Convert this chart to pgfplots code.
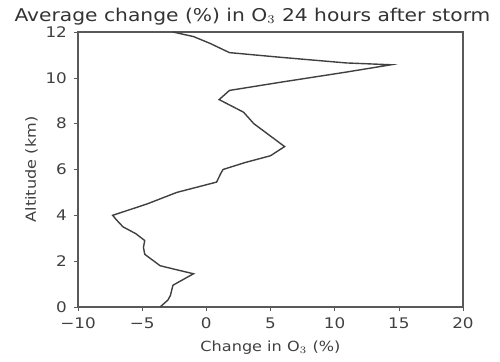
\documentclass[border=0pt]{standalone}
\usepackage{pgfplots}
\pgfplotsset{compat=1.18}
\usepackage{fontspec}
\setmainfont{DejaVu Sans}
\newfontfamily\widefont[FakeStretch=1.15]{DejaVu Sans}
\newfontfamily\widerfont[FakeStretch=1.15]{DejaVu Sans}
\begin{document}
\begin{tikzpicture}[x=1pt,y=1pt]
\path (0,0) rectangle (250,180);
\begin{axis}[
  at={(39pt,26.5pt)}, anchor=south west,
  scale only axis, width=192.5pt, height=137.5pt,
  xmin=-10, xmax=20, ymin=0, ymax=12,
  xtick={-10,-5,0,5,10,15,20},
  xticklabels={−10,−5,0,5,10,15,20},
  ytick={0,2,4,6,8,10,12},
  yticklabels={0,2,4,6,8,10,12},
  tick align=outside, major tick length=2pt,
  xtick pos=left, ytick pos=left,
  axis line style={gray!70!black, line width=0.8pt},
  tick style={gray!70!black},
  ticklabel style={font=\widerfont\fontsize{7.3}{8}\selectfont, text=black!75},
  xlabel={Change in O$_3$ (\%)},
  ylabel={Altitude (km)},
  label style={font=\widerfont\fontsize{7}{7}\selectfont, text=black!75},
  xlabel style={yshift=1pt},
  ylabel style={yshift=-3pt},
  title={Average change (\%) in O$_3$ 24 hours after storm},
  title style={font=\widefont\fontsize{8.8}{9}\selectfont, text=black!80, yshift=-6pt, xshift=-9pt},
]
\addplot[black!75, line width=0.7pt] coordinates {
(-3.6,0.0)
(-3.0,0.3)
(-2.8,0.5)
(-2.6,0.95)
(-1.0,1.45)
(-2.5,1.65)
(-3.6,1.8)
(-4.8,2.3)
(-4.9,2.6)
(-4.8,2.9)
(-5.5,3.2)
(-6.5,3.5)
(-7.0,3.8)
(-7.3,4.0)
(-4.6,4.5)
(-2.3,5.0)
(0.8,5.45)
(1.1,5.8)
(1.3,6.0)
(3.0,6.3)
(5.0,6.6)
(6.1,7.0)
(3.7,8.0)
(2.9,8.5)
(1.0,9.05)
(1.8,9.45)
(5.7,9.8)
(10.9,10.25)
(14.4,10.57)
(10.9,10.65)
(5.7,10.9)
(1.8,11.1)
(0.3,11.5)
(-1.0,11.8)
(-2.6,12.0)
};
\end{axis}
\end{tikzpicture}
\end{document}
